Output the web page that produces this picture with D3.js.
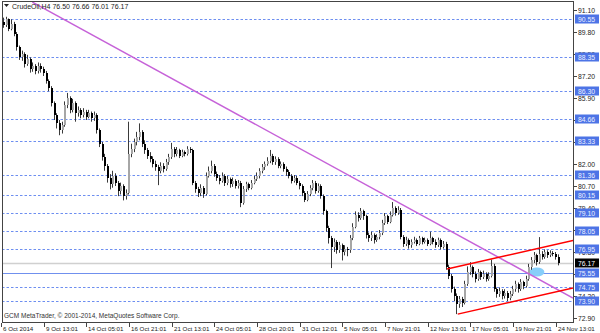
<!DOCTYPE html>
<html>
<head>
<meta charset="utf-8">
<script src="https://cdn.jsdelivr.net/npm/d3@7"></script>
<style>
  body { margin: 0; background: #fff; }
  svg { display: block; font-family: "Liberation Sans", Arial, sans-serif; }
</style>
</head>
<body>
<div id="chart"></div>
<script>
// CrudeOil H4 bars, 6 Oct - 24 Nov 2014
var opens = [
  90.40, 90.20, 90.55, 90.00, 90.30, 89.70, 88.90, 88.30, 88.50, 87.90,
  88.20, 87.60, 87.80, 87.50, 87.80, 87.60, 87.40, 86.90, 86.50, 85.60,
  84.90, 84.40, 84.00, 84.30, 85.50, 85.90, 85.20, 85.60, 85.00, 85.20,
  84.90, 85.10, 84.80, 85.00, 84.70, 84.90, 84.00, 83.20, 82.40, 81.90,
  81.20, 80.80, 81.30, 80.90, 80.40, 80.70, 80.10, 80.30, 82.60, 82.90,
  83.30, 83.60, 83.90, 83.20, 82.80, 82.50, 82.30, 82.00, 81.80, 81.60,
  81.90, 81.70, 82.10, 82.40, 82.90, 82.60, 82.80, 82.50, 82.70, 82.60,
  82.90, 82.80, 80.90, 80.50, 80.30, 80.60, 80.20, 81.30, 81.60, 81.90,
  81.40, 81.20, 81.00, 81.30, 80.90, 81.10, 80.80, 81.00, 80.70, 80.90,
  79.70, 80.50, 80.80, 80.60, 80.90, 81.10, 81.30, 81.60, 81.80, 82.00,
  82.20, 82.50, 82.10, 82.30, 81.90, 82.00, 81.70, 81.50, 81.30, 81.00,
  81.20, 80.90, 80.70, 80.30, 79.90, 80.20, 80.60, 80.90, 80.40, 80.70,
  80.10, 79.20, 78.20, 77.60, 77.10, 77.40, 76.90, 77.20, 76.80, 77.00,
  76.90, 77.60, 78.30, 79.00, 78.80, 79.20, 78.90, 77.80, 77.60, 77.80,
  77.50, 77.70, 77.90, 78.50, 78.90, 78.60, 79.00, 79.40, 79.10, 79.30,
  77.70, 77.30, 77.50, 77.20, 77.40, 77.50, 77.30, 77.60, 77.40, 77.50,
  77.30, 77.60, 77.40, 77.20, 77.50, 77.10, 77.30, 75.90, 75.40, 74.60,
  74.20, 73.70, 74.00, 73.80, 74.90, 75.60, 75.90, 75.50, 75.20, 75.60,
  75.30, 75.50, 75.20, 75.40, 76.00, 74.60, 74.30, 74.50, 74.20, 74.40,
  74.10, 74.30, 74.60, 74.90, 74.60, 75.00, 74.80, 75.20, 75.90, 76.30,
  76.60, 76.20, 76.70, 76.50, 76.80, 76.60, 76.75, 76.70, 76.50
];
var highs = [
  90.65, 90.70, 90.60, 90.55, 90.40, 89.80, 89.00, 88.70, 88.60, 88.45,
  88.30, 88.00, 87.90, 88.00, 87.95, 87.75, 87.50, 87.00, 86.60, 85.70,
  85.00, 84.60, 84.50, 85.70, 86.20, 86.00, 85.85, 85.70, 85.40, 85.30,
  85.30, 85.20, 85.20, 85.10, 85.10, 85.00, 84.10, 83.30, 82.60, 82.00,
  81.40, 81.60, 81.45, 81.00, 80.90, 80.80, 80.50, 84.50, 83.20, 83.50,
  83.90, 84.40, 84.00, 83.40, 82.95, 82.70, 82.45, 82.20, 81.95, 82.10,
  82.05, 82.30, 82.60, 83.25, 83.00, 83.00, 82.90, 82.85, 82.80, 83.05,
  83.00, 82.90, 81.00, 80.65, 80.80, 80.70, 81.50, 81.85, 82.20, 82.00,
  81.55, 81.35, 81.50, 81.40, 81.30, 81.20, 81.20, 81.10, 81.05, 81.00,
  80.70, 80.95, 80.90, 81.05, 81.30, 81.50, 81.75, 82.00, 82.15, 82.40,
  82.83, 82.60, 82.45, 82.40, 82.15, 82.10, 81.85, 81.65, 81.40, 81.35,
  81.30, 81.00, 80.80, 80.40, 80.40, 80.75, 81.05, 81.00, 80.85, 80.80,
  80.20, 79.30, 78.35, 77.75, 77.60, 77.50, 77.40, 77.30, 77.20, 77.10,
  77.80, 78.50, 79.20, 79.15, 79.40, 79.30, 79.00, 77.95, 78.00, 77.90,
  77.85, 78.10, 78.70, 79.10, 79.00, 79.20, 79.75, 79.50, 79.50, 79.40,
  77.80, 77.70, 77.60, 77.55, 77.70, 77.60, 77.75, 77.70, 77.65, 77.60,
  78.00, 77.70, 77.55, 77.65, 77.60, 77.45, 77.40, 76.05, 75.50, 74.75,
  74.35, 74.20, 74.15, 75.10, 75.95, 76.20, 76.00, 75.65, 75.80, 75.70,
  75.70, 75.60, 75.60, 76.35, 76.10, 74.70, 74.70, 74.60, 74.60, 74.50,
  74.50, 74.80, 75.10, 75.00, 75.20, 75.10, 75.40, 76.10, 76.50, 76.80,
  76.70, 77.68, 76.85, 76.95, 76.90, 76.90, 76.85, 76.80, 76.66
];
var lows = [
  90.05, 90.10, 89.85, 89.90, 89.55, 88.70, 88.15, 88.10, 87.70, 87.80,
  87.40, 87.45, 87.30, 87.35, 87.40, 87.20, 86.75, 86.30, 85.40, 84.60,
  84.10, 83.70, 83.80, 84.20, 85.30, 85.00, 85.05, 84.50, 84.80, 84.70,
  84.75, 84.60, 84.70, 84.50, 84.55, 83.80, 83.00, 82.20, 81.60, 80.90,
  80.50, 80.60, 80.70, 80.10, 80.20, 79.85, 79.90, 80.20, 82.40, 82.70,
  83.10, 83.40, 83.00, 82.60, 82.30, 82.10, 81.80, 81.60, 80.75, 81.45,
  81.50, 81.60, 81.95, 82.30, 82.40, 82.45, 82.35, 82.40, 82.45, 82.50,
  82.65, 80.75, 80.30, 80.05, 80.10, 80.00, 80.15, 81.20, 81.45, 81.25,
  81.00, 80.80, 80.90, 80.70, 80.75, 80.60, 80.65, 80.55, 80.55, 79.45,
  79.60, 80.35, 80.45, 80.50, 80.80, 81.00, 81.15, 81.45, 81.65, 81.90,
  82.05, 81.95, 81.95, 81.75, 81.75, 81.55, 81.30, 81.15, 80.85, 80.90,
  80.75, 80.50, 80.10, 79.75, 79.80, 80.10, 80.45, 80.25, 80.30, 79.95,
  79.00, 78.00, 77.30, 75.85, 76.80, 76.70, 76.75, 76.30, 76.60, 76.55,
  76.75, 77.50, 78.20, 78.60, 78.70, 78.70, 77.60, 77.40, 77.45, 77.30,
  77.40, 77.55, 77.80, 78.40, 78.45, 78.50, 78.90, 78.95, 79.00, 77.55,
  77.10, 77.15, 77.00, 77.05, 77.30, 77.15, 77.20, 77.25, 77.30, 77.15,
  77.20, 77.25, 77.05, 77.10, 76.95, 77.00, 75.75, 75.20, 74.40, 73.90,
  73.13, 73.50, 73.55, 73.70, 74.80, 75.45, 75.30, 75.00, 75.10, 75.15,
  75.20, 75.05, 75.10, 75.30, 74.45, 74.10, 74.15, 74.00, 74.05, 73.90,
  73.95, 74.20, 74.45, 74.40, 74.50, 74.60, 74.70, 75.10, 75.75, 76.15,
  76.00, 76.10, 76.35, 76.40, 76.45, 76.50, 76.55, 76.35, 76.01
];
var closes = [
  90.20, 90.55, 90.00, 90.30, 89.70, 88.90, 88.30, 88.50, 87.90, 88.20,
  87.60, 87.80, 87.50, 87.80, 87.60, 87.40, 86.90, 86.50, 85.60, 84.90,
  84.40, 84.00, 84.30, 85.50, 85.90, 85.20, 85.60, 85.00, 85.20, 84.90,
  85.10, 84.80, 85.00, 84.70, 84.90, 84.00, 83.20, 82.40, 81.90, 81.20,
  80.80, 81.30, 80.90, 80.40, 80.70, 80.10, 80.30, 82.60, 82.90, 83.30,
  83.60, 83.90, 83.20, 82.80, 82.50, 82.30, 82.00, 81.80, 81.60, 81.90,
  81.70, 82.10, 82.40, 82.90, 82.60, 82.80, 82.50, 82.70, 82.60, 82.90,
  82.80, 80.90, 80.50, 80.30, 80.60, 80.20, 81.30, 81.60, 81.90, 81.40,
  81.20, 81.00, 81.30, 80.90, 81.10, 80.80, 81.00, 80.70, 80.90, 79.70,
  80.50, 80.80, 80.60, 80.90, 81.10, 81.30, 81.60, 81.80, 82.00, 82.20,
  82.50, 82.10, 82.30, 81.90, 82.00, 81.70, 81.50, 81.30, 81.00, 81.20,
  80.90, 80.70, 80.30, 79.90, 80.20, 80.60, 80.90, 80.40, 80.70, 80.10,
  79.20, 78.20, 77.60, 77.10, 77.40, 76.90, 77.20, 76.80, 77.00, 76.90,
  77.60, 78.30, 79.00, 78.80, 79.20, 78.90, 77.80, 77.60, 77.80, 77.50,
  77.70, 77.90, 78.50, 78.90, 78.60, 79.00, 79.40, 79.10, 79.30, 77.70,
  77.30, 77.50, 77.20, 77.40, 77.50, 77.30, 77.60, 77.40, 77.50, 77.30,
  77.60, 77.40, 77.20, 77.50, 77.10, 77.30, 75.90, 75.40, 74.60, 74.20,
  73.70, 74.00, 73.80, 74.90, 75.60, 75.90, 75.50, 75.20, 75.60, 75.30,
  75.50, 75.20, 75.40, 76.00, 74.60, 74.30, 74.50, 74.20, 74.40, 74.10,
  74.30, 74.60, 74.90, 74.60, 75.00, 74.80, 75.20, 75.90, 76.30, 76.60,
  76.20, 76.70, 76.50, 76.80, 76.60, 76.75, 76.70, 76.50, 76.17
];

// time axis labels and the bar each one sits on
var timeLabels = ["6 Oct 2014", "9 Oct 13:01", "14 Oct 05:01", "16 Oct 21:01", "21 Oct 13:01",
  "24 Oct 05:01", "28 Oct 20:01", "31 Oct 12:01", "5 Nov 05:01", "7 Nov 21:01",
  "12 Nov 13:01", "17 Nov 05:01", "19 Nov 21:01", "24 Nov 13:01"];
var timeBars = [0, 16, 32, 48, 64, 80, 96, 112, 128, 144, 160, 176, 192, 208];

// price scale ticks
var priceTicks = [91.10, 89.80, 88.50, 87.20, 85.90, 84.60, 83.30, 82.00, 80.70, 79.40,
  78.10, 76.80, 75.50, 74.20, 72.90];

// horizontal lines drawn on the chart
var dotLevels = [90.55, 88.35, 86.30, 84.66, 83.33, 81.36, 80.15, 79.10, 78.05, 76.95, 74.75, 73.90];
var solidLevel = 75.55;
var bid = 76.17;

// trend lines: [bar, price] anchor pairs (rays to the right)
var fallLine = [[11, 91.56], [146, 79.92]];
var channelTop = [[166.5, 75.79], [201, 77.03]];
var channelBottom = [[170.5, 73.13], [201, 74.22]];
var ellipse = { bar: 200.2, price: 75.62, bars: 2.8, prices: 0.27 };

var width = 600, height = 333;
var pLeft = 2, pRight = 573, pTop = 1, pBottom = 322;

var x = d3.scaleLinear().domain([0, 208]).range([3, 557.7]);
var y = d3.scaleLinear().domain([72.90, 91.10]).range([318, 10]);

var svg = d3.select('#chart').append('svg')
  .attr('width', width)
  .attr('height', height);

svg.append('clipPath').attr('id', 'plotclip')
  .append('rect')
  .attr('x', pLeft).attr('y', pTop)
  .attr('width', pRight - pLeft).attr('height', pBottom - pTop);

var plot = svg.append('g').attr('clip-path', 'url(#plotclip)');

function py(v) { return Math.round(y(v)) + 0.5; }

// dotted levels
plot.selectAll('.lvl')
  .data(dotLevels)
  .enter()
  .append('line')
  .attr('class', 'lvl')
  .attr('x1', pLeft).attr('x2', pRight)
  .attr('y1', py).attr('y2', py)
  .attr('stroke', '#6d8ef0')
  .attr('stroke-dasharray', '2.5,2');

plot.append('line')
  .attr('x1', pLeft).attr('x2', pRight)
  .attr('y1', py(bid)).attr('y2', py(bid))
  .attr('stroke', '#d0d0d0')
  .attr('stroke-width', 1.5);

plot.append('line')
  .attr('x1', pLeft).attr('x2', pRight)
  .attr('y1', py(solidLevel)).attr('y2', py(solidLevel))
  .attr('stroke', '#7090ee');

plot.append('ellipse')
  .attr('cx', x(ellipse.bar))
  .attr('cy', y(ellipse.price))
  .attr('rx', x(ellipse.bars) - x(0))
  .attr('ry', y(ellipse.price - ellipse.prices) - y(ellipse.price))
  .attr('fill', '#87cefa');

// candles
var idx = d3.range(closes.length);

plot.selectAll('.wick')
  .data(idx)
  .enter()
  .append('line')
  .attr('class', 'wick')
  .attr('x1', function(i) { return Math.round(x(i)) + 0.5; })
  .attr('x2', function(i) { return Math.round(x(i)) + 0.5; })
  .attr('y1', function(i) { return y(highs[i]); })
  .attr('y2', function(i) { return y(lows[i]); })
  .attr('stroke', '#3a3a3a');

plot.selectAll('.body')
  .data(idx)
  .enter()
  .append('rect')
  .attr('class', 'body')
  .attr('shape-rendering', 'crispEdges')
  .attr('x', function(i) { return Math.round(x(i)); })
  .attr('width', 2)
  .attr('y', function(i) { return y(Math.max(opens[i], closes[i])); })
  .attr('height', function(i) { return Math.max(1, Math.abs(y(opens[i]) - y(closes[i]))); })
  .attr('fill', function(i) { return closes[i] >= opens[i] ? '#a6a6a6' : '#000'; });

// trend lines
function ray(pts, color, w) {
  var slope = (pts[1][1] - pts[0][1]) / (pts[1][0] - pts[0][0]);
  var endBar = x.invert(pRight);
  plot.append('line')
    .attr('x1', x(pts[0][0])).attr('y1', y(pts[0][1]))
    .attr('x2', pRight).attr('y2', y(pts[0][1] + slope * (endBar - pts[0][0])))
    .attr('stroke', color)
    .attr('stroke-width', w);
}
ray(fallLine, '#c662d8', 1.5);
ray(channelTop, '#ff0000', 1.5);
ray(channelBottom, '#ff0000', 1.5);

// frame
svg.append('rect')
  .attr('x', pLeft + 0.5).attr('y', pTop + 0.5)
  .attr('width', pRight - pLeft).attr('height', pBottom - pTop)
  .attr('fill', 'none')
  .attr('stroke', '#444');

// price axis
var pa = svg.append('g');
pa.selectAll('.ptick')
  .data(priceTicks)
  .enter()
  .append('line')
  .attr('x1', pRight + 1).attr('x2', pRight + 4)
  .attr('y1', py).attr('y2', py)
  .attr('stroke', '#444');
pa.selectAll('.plabel')
  .data(priceTicks)
  .enter()
  .append('text')
  .attr('x', pRight + 5)
  .attr('y', function(d) { return y(d) + 2.5; })
  .attr('font-size', 6.8)
  .attr('fill', '#222')
  .text(function(d) { return d.toFixed(2); });

var boxes = pa.selectAll('.box')
  .data(dotLevels.concat([solidLevel]))
  .enter()
  .append('g')
  .attr('transform', function(d) { return 'translate(' + (pRight + 2) + ',' + Math.round(y(d)) + ')'; });
boxes.append('rect')
  .attr('x', 0).attr('y', -4.5)
  .attr('width', 24).attr('height', 9)
  .attr('fill', '#4d74e6');
boxes.append('text')
  .attr('x', 3).attr('y', 2.5)
  .attr('font-size', 6.8)
  .attr('fill', '#eef2ff')
  .text(function(d) { return d.toFixed(2); });

var bidBox = pa.append('g')
  .attr('transform', 'translate(' + (pRight + 2) + ',' + Math.round(y(bid)) + ')');
bidBox.append('rect')
  .attr('x', 0).attr('y', -4.5)
  .attr('width', 24).attr('height', 9)
  .attr('fill', '#000');
bidBox.append('text')
  .attr('x', 3).attr('y', 2.5)
  .attr('font-size', 6.8)
  .attr('fill', '#fff')
  .text(bid.toFixed(2));

// time axis
var ta = svg.append('g');
ta.selectAll('.ttick')
  .data(timeBars)
  .enter()
  .append('line')
  .attr('x1', function(b) { return Math.round(x(b)) - 1.5; })
  .attr('x2', function(b) { return Math.round(x(b)) - 1.5; })
  .attr('y1', pBottom + 1).attr('y2', pBottom + 5)
  .attr('stroke', '#444');
ta.selectAll('.tlabel')
  .data(timeBars)
  .enter()
  .append('text')
  .attr('x', function(b) { return Math.round(x(b)); })
  .attr('y', pBottom + 9)
  .attr('font-size', 6.2)
  .attr('fill', '#222')
  .text(function(b, k) { return timeLabels[k]; });

// header and footer text
svg.append('path')
  .attr('d', 'M4,4 L9,4 L6.5,7 Z')
  .attr('fill', '#222');
svg.append('text')
  .attr('x', 12).attr('y', 8.5)
  .attr('font-size', 7)
  .attr('fill', '#222')
  .text('CrudeOil,H4  76.50 76.66 76.01 76.17');
svg.append('text')
  .attr('x', 4).attr('y', 318)
  .attr('font-size', 6.5)
  .attr('fill', '#333')
  .text('GCM MetaTrader, \u00a9 2001-2014, MetaQuotes Software Corp.');
</script>
</body>
</html>
